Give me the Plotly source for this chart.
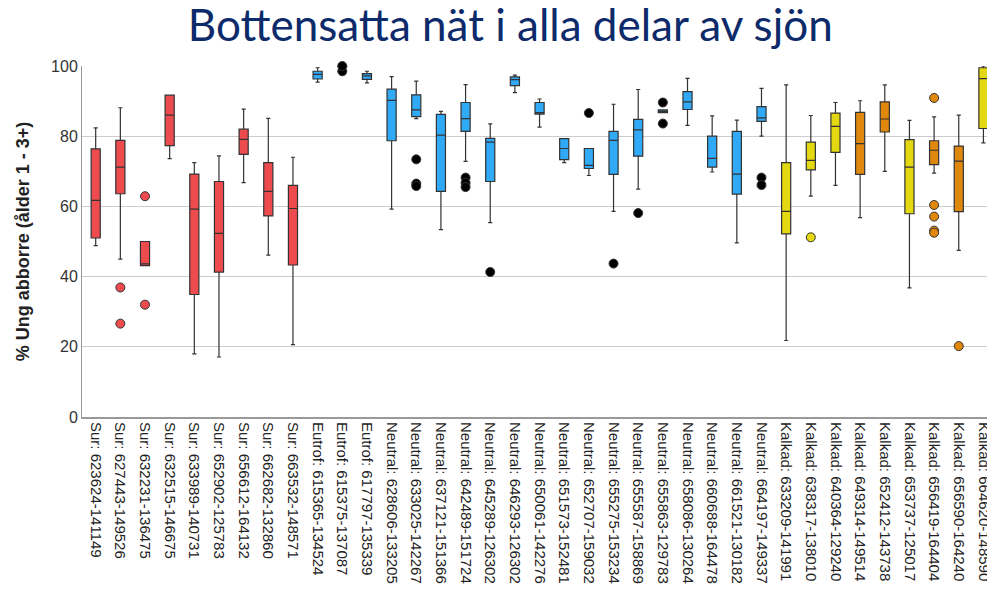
import plotly.graph_objects as go

# Sjöar (kategorier) i ordning längs x-axeln
labels = [
    "Sur: 623624-141149", "Sur: 627443-149526", "Sur: 632231-136475",
    "Sur: 632515-146675", "Sur: 633989-140731", "Sur: 652902-125783",
    "Sur: 656612-164132", "Sur: 662682-132860", "Sur: 663532-148571",
    "Eutrof: 615365-134524", "Eutrof: 615375-137087", "Eutrof: 617797-135339",
    "Neutral: 628606-133205", "Neutral: 633025-142267", "Neutral: 637121-151366",
    "Neutral: 642489-151724", "Neutral: 645289-126302", "Neutral: 646293-126302",
    "Neutral: 650061-142276", "Neutral: 651573-152481", "Neutral: 652707-159032",
    "Neutral: 655275-153234", "Neutral: 655587-158869", "Neutral: 655863-129783",
    "Neutral: 658086-130264", "Neutral: 660688-164478", "Neutral: 661521-130182",
    "Neutral: 664197-149337",
    "Kalkad: 633209-141991", "Kalkad: 638317-138010", "Kalkad: 640364-129240",
    "Kalkad: 649314-149514", "Kalkad: 652412-143738", "Kalkad: 653737-125017",
    "Kalkad: 656419-164404", "Kalkad: 656590-164240", "Kalkad: 664620-148590",
]

# färggrupp per sjö
groups = (["sur"] * 9 + ["blue"] * 19 +
          ["yellow", "yellow", "yellow", "orange", "orange", "yellow",
           "orange", "orange", "yellow"])

lower = [48.8, 45.0, 43.1, 73.6, 18.0, 17.1, 66.8, 46.1, 20.6,
         95.4, 99.9, 95.2,
         59.2, 85.0, 53.4, 72.8, 55.4, 92.4, 82.6, 72.5, 68.8, 58.6, 64.9,
         86.7, 83.1, 69.8, 49.6, 80.0,
         21.8, 62.9, 66.0, 56.8, 70.0, 36.8, 69.5, 47.5, 78.1]
q1 = [51.0, 63.6, 43.1, 77.3, 34.9, 41.3, 74.8, 57.3, 43.3,
      96.3, 99.9, 96.2,
      78.7, 85.6, 64.3, 81.4, 67.1, 94.4, 86.3, 73.3, 70.8, 69.1, 74.3,
      86.7, 87.6, 71.2, 63.5, 84.2,
      52.2, 70.4, 75.4, 69.1, 81.2, 57.9, 71.9, 58.5, 82.2]
median = [61.7, 71.2, 43.6, 86.0, 59.2, 52.3, 79.1, 64.3, 59.4,
          97.6, 100.0, 97.2,
          90.2, 87.5, 80.3, 85.0, 78.3, 96.1, 86.7, 76.5, 71.7, 78.8, 81.8,
          87.1, 89.8, 73.7, 69.2, 85.2,
          58.6, 73.1, 82.8, 77.9, 84.9, 71.2, 76.0, 72.9, 96.4]
q3 = [76.4, 78.8, 50.0, 91.7, 69.2, 67.1, 82.0, 72.5, 66.0,
      98.5, 100.0, 97.8,
      93.4, 91.8, 86.2, 89.6, 79.4, 96.9, 89.6, 79.3, 76.5, 81.4, 84.8,
      87.5, 92.7, 80.0, 81.4, 88.4,
      72.5, 78.3, 86.6, 86.8, 89.8, 79.0, 78.7, 77.2, 99.5]
upper = [82.4, 88.1, 50.0, 91.7, 72.5, 74.4, 87.7, 85.1, 74.0,
         99.5, 100.0, 98.5,
         97.0, 95.7, 87.1, 94.7, 83.5, 97.4, 90.6, 79.3, 76.5, 89.1, 93.3,
         87.5, 96.5, 85.8, 84.6, 93.6,
         94.6, 85.9, 89.6, 90.1, 94.6, 84.5, 85.5, 86.0, 100.0]
outliers = [
    [], [36.9, 26.6], [62.9, 32.0], [], [], [], [], [], [],
    [], [98.5, 100.0], [],
    [], [73.4, 66.5, 65.8], [], [68.2, 66.7, 65.5], [41.3], [], [], [],
    [86.6], [43.7], [58.1], [89.6, 83.6], [], [], [], [68.2, 66.1],
    [], [51.2], [], [], [], [], [90.9, 60.4, 57.1, 53.1, 52.5], [20.2], [],
]

fills = {"sur": "#EE4B4E", "blue": "#30A9F6", "yellow": "#E3D811",
         "orange": "#E0870E"}
point_fills = {"sur": "#EE4B4E", "blue": "#000000", "yellow": "#E3D811",
               "orange": "#E0870E"}

fig = go.Figure()

for g, col in fills.items():
    idx = [i for i, gg in enumerate(groups) if gg == g]
    fig.add_trace(go.Box(
        x=[labels[i] for i in idx],
        lowerfence=[lower[i] for i in idx],
        q1=[q1[i] for i in idx],
        median=[median[i] for i in idx],
        q3=[q3[i] for i in idx],
        upperfence=[upper[i] for i in idx],
        fillcolor=col,
        line=dict(color="#333333", width=1.2),
        width=0.37,
        whiskerwidth=0.45,
        boxpoints=False,
        showlegend=False,
        hoverinfo="skip",
    ))

    ox, oy = [], []
    for i in idx:
        for v in outliers[i]:
            ox.append(labels[i])
            oy.append(v)
    if ox:
        fig.add_trace(go.Scatter(
            x=ox, y=oy, mode="markers",
            marker=dict(size=9, color=point_fills[g],
                        line=dict(color="#333333", width=1)),
            cliponaxis=False,
            showlegend=False,
            hoverinfo="skip",
        ))

fig.update_layout(
    width=987, height=610,
    margin=dict(l=82, r=0, t=66, b=193),
    paper_bgcolor="white",
    plot_bgcolor="white",
    boxmode="overlay",
    title=dict(
        text="Bottensatta nät i alla delar av sjön",
        x=0.517, xanchor="center", y=0.958, yanchor="middle",
        font=dict(family="Lato, Open Sans, sans-serif", size=44,
                  color="#0D2A6A"),
    ),
    font=dict(family="Liberation Sans, Arial, sans-serif", color="#222222"),
)

fig.update_xaxes(
    type="category",
    categoryorder="array",
    categoryarray=labels,
    range=[-0.555, 36.145],
    tickangle=90,
    tickfont=dict(size=15, color="#222222"),
    showgrid=False,
    showline=True,
    linecolor="#999999",
    linewidth=2,
    ticks="",
    automargin=False,
)

fig.update_yaxes(
    range=[0, 100],
    tickvals=[0, 20, 40, 60, 80, 100],
    tickfont=dict(size=16, color="#333333"),
    showgrid=True,
    gridcolor="#cccccc",
    gridwidth=1,
    zeroline=False,
    showline=True,
    linecolor="#999999",
    linewidth=1,
    ticks="",
    automargin=False,
    title=dict(text="<b>% Ung abborre (ålder 1 - 3+)</b>",
               font=dict(size=18, color="#222222"), standoff=16),
)

# the default page body has an 8px margin; drop it so the figure fills the window
fig.write_html("out.html",
               config={"displayModeBar": False},
               post_script="document.body.style.margin='0';"
                           "document.body.style.overflow='hidden';")
